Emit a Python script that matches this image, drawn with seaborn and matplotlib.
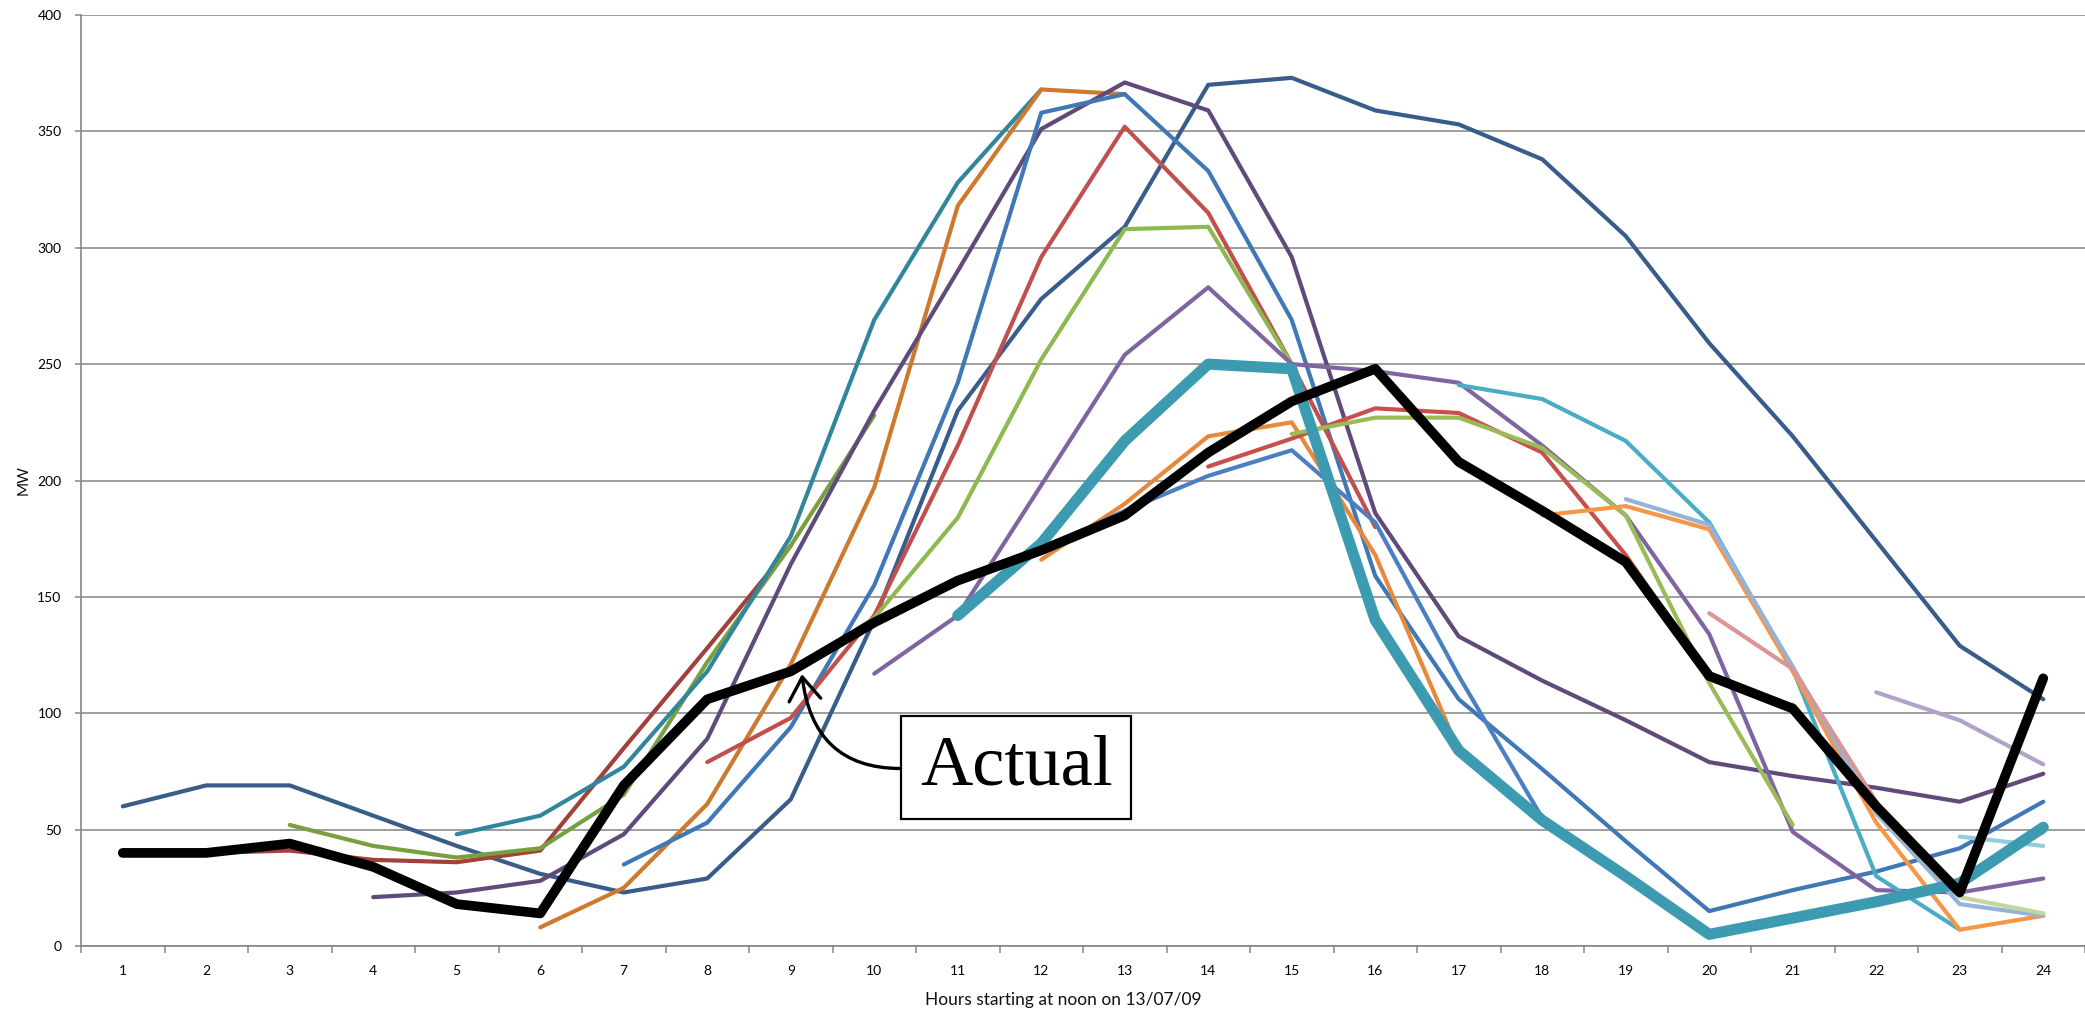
import matplotlib
matplotlib.use("Agg")
import matplotlib.pyplot as plt
import numpy as np
import pandas as pd
import seaborn as sns

hours = list(range(1, 25))

# first hour of each line, then MW values read hour by hour
actual_start, actual = 1, [40, 40, 44, 34, 18, 14, 69, 106, 118, 139, 157, 170,
                           185, 212, 234, 248, 208, 187, 165, 116, 102, 60, 23, 115]
dark_blue_start, dark_blue = 1, [60, 69, 69, 56, 43, 31, 23, 29, 63, 140, 230, 278,
                                 309, 370, 373, 359, 353, 338, 305, 259, 219, 174, 129, 106]
red_brown_start, red_brown = 1, [40, 40, 41, 37, 36, 41, 85, 128, 172]
green_early_start, green_early = 3, [52, 43, 38, 42, 65, 122, 172, 228]
teal_start, teal = 5, [48, 56, 77, 118, 176, 269, 328, 368]
dark_orange_start, dark_orange = 6, [8, 25, 61, 121, 197, 318, 368, 366]
dark_purple_start, dark_purple = 4, [21, 23, 28, 48, 89, 164, 230, 290, 351, 371, 359,
                                     296, 186, 133, 114, 97, 79, 73, 68, 62, 74]
blue_a_start, blue_a = 7, [35, 53, 94, 155, 242, 358, 366, 333, 269, 159, 106, 76,
                           45, 15, 24, 32, 42, 62]
red_start, red = 8, [79, 98, 142, 215, 296, 352, 315, 250, 180]
green_late_start, green_late = 9, [117, 141, 184, 252, 308, 309, 250]
mid_purple_start, mid_purple = 10, [117, 142, 198, 254, 283, 250, 247, 242, 215, 185,
                                    134, 49, 24, 23, 29]
thick_teal_start, thick_teal = 11, [142, 173, 217, 250, 248, 140, 84, 54, 30, 5, 12, 19, 27, 51]
blue_b_start, blue_b = 12, [170, 187, 202, 213, 182, 116, 55, 31, 6, 13, 20, 28, 49]
mid_orange_start, mid_orange = 12, [166, 190, 219, 225, 168, 84, 56]
red2_start, red2 = 14, [206, 218, 231, 229, 212, 168, 116]
green2_start, green2 = 15, [220, 227, 227, 214, 185, 113, 52]
cyan_start, cyan = 17, [241, 235, 217, 182, 119, 30, 7]
bright_orange_start, bright_orange = 18, [185, 189, 179, 118, 53, 7, 13]
light_blue_start, light_blue = 19, [192, 181, 120, 57, 18, 13]
pink_start, pink = 20, [143, 119, 62]
light_purple_start, light_purple = 22, [109, 97, 78]
light_aqua_start, light_aqua = 23, [47, 43]
light_green_start, light_green = 21, [104, 58, 21, 14]

series = {
    "dark_blue": (dark_blue_start, dark_blue),
    "red_brown": (red_brown_start, red_brown),
    "green_early": (green_early_start, green_early),
    "teal": (teal_start, teal),
    "dark_orange": (dark_orange_start, dark_orange),
    "dark_purple": (dark_purple_start, dark_purple),
    "blue_a": (blue_a_start, blue_a),
    "red": (red_start, red),
    "green_late": (green_late_start, green_late),
    "mid_purple": (mid_purple_start, mid_purple),
    "mid_orange": (mid_orange_start, mid_orange),
    "red2": (red2_start, red2),
    "green2": (green2_start, green2),
    "cyan": (cyan_start, cyan),
    "bright_orange": (bright_orange_start, bright_orange),
    "light_blue": (light_blue_start, light_blue),
    "pink": (pink_start, pink),
    "light_purple": (light_purple_start, light_purple),
    "light_aqua": (light_aqua_start, light_aqua),
    "light_green": (light_green_start, light_green),
    "blue_b": (blue_b_start, blue_b),
    "thick_teal": (thick_teal_start, thick_teal),
    "actual": (actual_start, actual),
}

colors = {
    "actual": "black",
    "dark_blue": "#385D8A",
    "red_brown": "#A2403C",
    "green_early": "#77A040",
    "teal": "#31869B",
    "dark_orange": "#CD7A2E",
    "dark_purple": "#5F4A7B",
    "blue_a": "#4077B5",
    "red": "#C0504D",
    "green_late": "#8DB950",
    "mid_purple": "#8064A2",
    "thick_teal": "#3D9BB1",
    "blue_b": "#4A80C2",
    "mid_orange": "#E8883A",
    "red2": "#C8504C",
    "green2": "#9BBB59",
    "cyan": "#4BACC6",
    "bright_orange": "#F79646",
    "light_blue": "#95B3D7",
    "pink": "#D99694",
    "light_purple": "#B3A2C7",
    "light_aqua": "#93CDDD",
    "light_green": "#C3D69B",
}
widths = {"actual": 7.0, "thick_teal": 8.0}

rows = []
for name, (start, vals) in series.items():
    for i, v in enumerate(vals):
        rows.append({"series": name, "hour": start + i, "mw": v})
df = pd.DataFrame(rows)

sns.set_theme(style="white")
plt.rcParams["font.family"] = ["Lato", "DejaVu Sans"]

fig = plt.figure(figsize=(20.85, 10.15), dpi=100)
ax = fig.add_axes([81 / 2085, 69 / 1015, 2004 / 2085, 931 / 1015])

for name in series:
    sub = df[df["series"] == name]
    sns.lineplot(data=sub, x="hour", y="mw", ax=ax, color=colors[name],
                 linewidth=widths.get(name, 3.0), sort=False, legend=False,
                 errorbar=None, solid_capstyle="round", solid_joinstyle="round")

ax.set_xlim(0.5, 24.5)
ax.set_ylim(0, 400)
ax.set_yticks(range(0, 401, 50))
ax.set_xticks(hours)
ax.set_xticks(np.arange(0.5, 25, 1), minor=True)
ax.yaxis.grid(True, color="#8e8e8e", lw=1.2)
ax.set_axisbelow(True)

for side in ["top", "right"]:
    ax.spines[side].set_visible(False)
for side in ["left", "bottom"]:
    ax.spines[side].set_color("#868686")
    ax.spines[side].set_linewidth(1.2)

ax.tick_params(axis="x", which="major", bottom=True, length=0, pad=14,
               labelsize=10, labelcolor="black")
ax.tick_params(axis="x", which="minor", bottom=True, length=5, width=1.1,
               color="#868686", direction="out")
ax.tick_params(axis="y", left=True, length=4, width=1.1, color="#868686",
               direction="out", pad=10, labelsize=10, labelcolor="black")

ax.set_xlabel("Hours starting at noon on 13/07/09", fontsize=12.5, color="#111111")
ax.xaxis.set_label_coords(0.49, -0.049)
ax.set_ylabel("MW", fontsize=11, color="#111111")
ax.yaxis.set_label_coords(-0.025, 0.5)

ax.annotate("Actual", xy=(9.13, 118), xytext=(11.7, 76.7), textcoords="data",
            ha="center", va="center", fontsize=52, color="black",
            family="Liberation Serif",
            bbox=dict(boxstyle="square,pad=0.26", fc="white", ec="black", lw=1.6),
            arrowprops=dict(arrowstyle="->,head_length=0.32,head_width=0.22",
                            relpos=(0, 0.5), connectionstyle="arc3,rad=-0.5",
                            lw=2.4, color="black", shrinkA=0, shrinkB=2),
            zorder=10)

fig.savefig("out.png", dpi=100)
